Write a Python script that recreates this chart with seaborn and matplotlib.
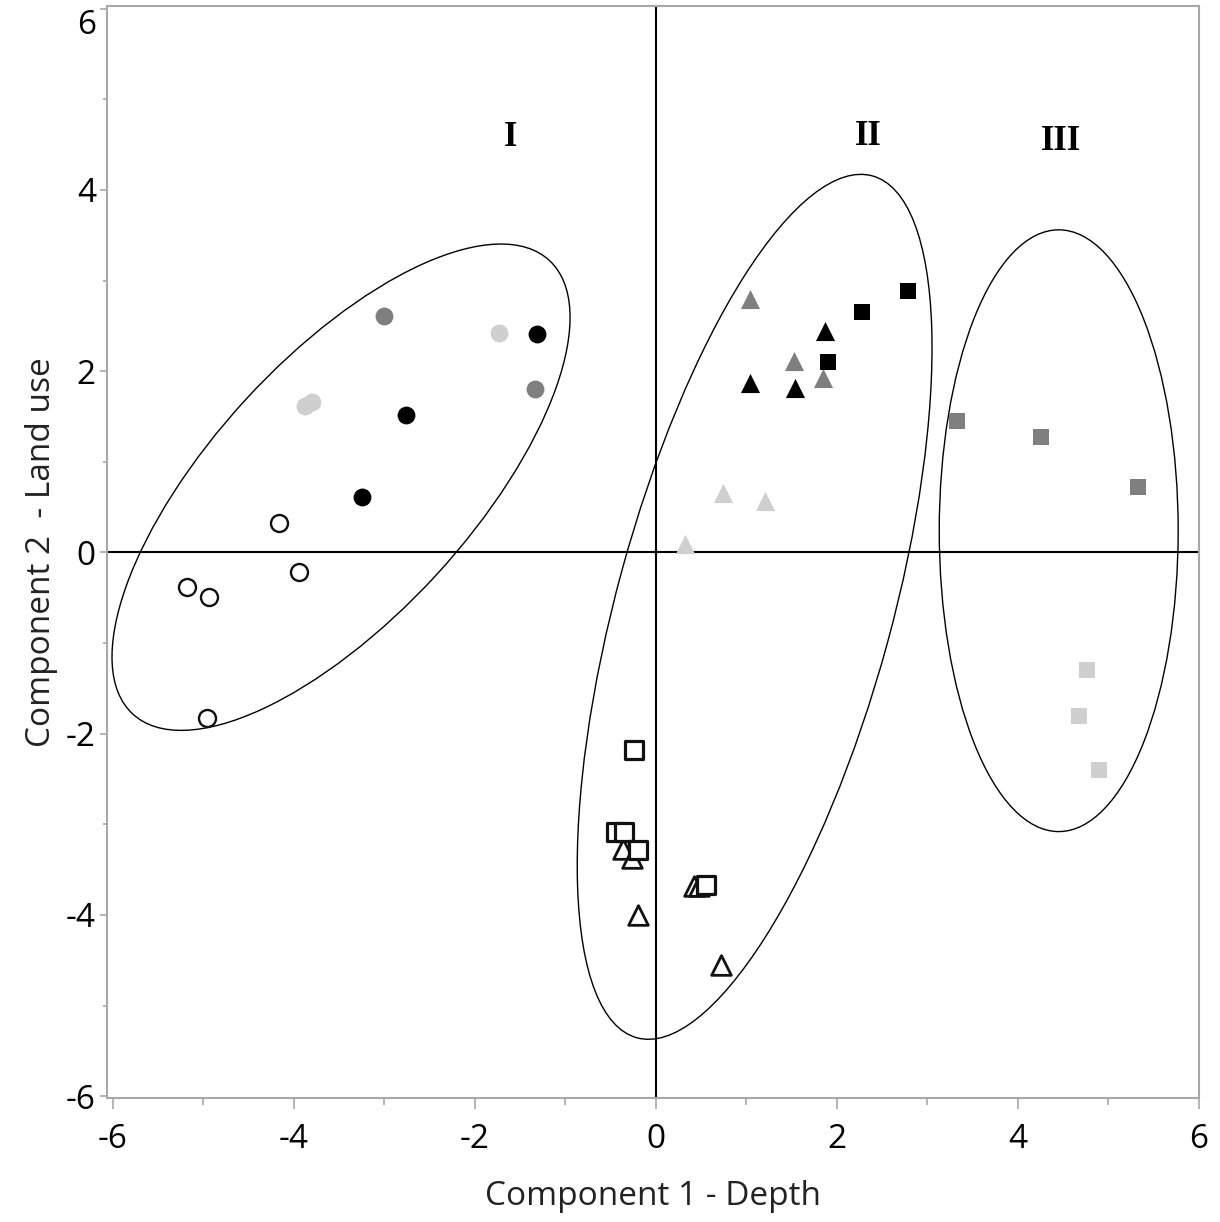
import matplotlib
matplotlib.use("Agg")
import matplotlib.pyplot as plt
from matplotlib.patches import Ellipse
from matplotlib.ticker import MultipleLocator
import seaborn as sns
import pandas as pd

# ---------------- data ----------------
# Group I : circles
circle_black_x = [-1.31, -2.76, -3.25]
circle_black_y = [2.41, 1.52, 0.61]
circle_dgray_x = [-3.01, -1.34]
circle_dgray_y = [2.61, 1.80]
circle_lgray_x = [-1.73, -3.88, -3.80]
circle_lgray_y = [2.42, 1.62, 1.66]
circle_open_x = [-4.17, -3.95, -5.18, -4.94, -4.96]
circle_open_y = [0.32, -0.22, -0.38, -0.49, -1.83]

# Group II : triangles and squares
tri_black_x = [1.04, 1.87, 1.54]
tri_black_y = [1.87, 2.44, 1.81]
tri_dgray_x = [1.04, 1.52, 1.85]
tri_dgray_y = [2.80, 2.11, 1.92]
tri_lgray_x = [0.74, 1.20, 0.32]
tri_lgray_y = [0.66, 0.57, 0.09]
tri_open_x = [-0.36, -0.26, 0.42, 0.47, -0.20, 0.72]
tri_open_y = [-3.27, -3.37, -3.68, -3.68, -4.00, -4.55]
sq_black_x = [2.28, 2.78, 1.90]
sq_black_y = [2.65, 2.88, 2.10]
sq_open_x = [-0.24, -0.44, -0.35, -0.20, 0.55]
sq_open_y = [-2.18, -3.08, -3.08, -3.28, -3.67]

# Group III : squares
sq_dgray_x = [3.33, 4.25, 5.33]
sq_dgray_y = [1.45, 1.27, 0.72]
sq_lgray_x = [4.76, 4.67, 4.89]
sq_lgray_y = [-1.30, -1.81, -2.40]

# Cluster ellipses: centre x, centre y, full width, full height, angle (deg)
ellipse_cx = [-3.48, 1.09, 4.45]
ellipse_cy = [0.72, -0.60, 0.24]
ellipse_w = [6.80, 9.86, 2.64]
ellipse_h = [2.86, 3.04, 6.64]
ellipse_angle = [47.4, 74.7, 0.0]

cluster_labels = ["I", "II", "III"]
cluster_label_x = [-1.61, 2.34, 4.48]
cluster_label_y = [4.58, 4.59, 4.53]

x_label = "Component 1 - Depth"
y_label = "Component 2  - Land use"

# ---------------- build table ----------------
series = [
    ("circle", "black", circle_black_x, circle_black_y),
    ("circle", "dgray", circle_dgray_x, circle_dgray_y),
    ("circle", "lgray", circle_lgray_x, circle_lgray_y),
    ("circle", "open", circle_open_x, circle_open_y),
    ("triangle", "black", tri_black_x, tri_black_y),
    ("triangle", "dgray", tri_dgray_x, tri_dgray_y),
    ("triangle", "lgray", tri_lgray_x, tri_lgray_y),
    ("triangle", "open", tri_open_x, tri_open_y),
    ("square", "black", sq_black_x, sq_black_y),
    ("square", "open", sq_open_x, sq_open_y),
    ("square", "dgray", sq_dgray_x, sq_dgray_y),
    ("square", "lgray", sq_lgray_x, sq_lgray_y),
]
rows = []
for shape, shade, xs, ys in series:
    for x, y in zip(xs, ys):
        rows.append({"x": x, "y": y, "shape": shape, "shade": shade})
df = pd.DataFrame(rows)

# ---------------- styling ----------------
sns.set_theme(style="white")
plt.rcParams["font.family"] = ["Open Sans", "DejaVu Sans"]

marker_of = {"circle": "o", "triangle": "^", "square": "s"}
size_filled = {"circle": 165, "triangle": 190, "square": 135}
size_open = {"circle": 150, "triangle": 200, "square": 150}
lw_open = {"circle": 1.7, "triangle": 2.0, "square": 2.3}
face_of = {"black": "#000000", "dgray": "#7f7f7f", "lgray": "#cfcfcf", "open": "white"}
edge_of = {"black": "#000000", "dgray": "#7f7f7f", "lgray": "#cfcfcf", "open": "#111111"}

fig = plt.figure(figsize=(12.2, 12.22), dpi=100)
ax = fig.add_axes([107 / 1220, 1 - 1098 / 1222, (1199 - 107) / 1220, (1098 - 6) / 1222])

ax.axhline(0, color="black", lw=1.5, zorder=1)
ax.axvline(0, color="black", lw=1.5, zorder=1)

for cx, cy, w, h, a in zip(ellipse_cx, ellipse_cy, ellipse_w, ellipse_h, ellipse_angle):
    ax.add_patch(Ellipse((cx, cy), w, h, angle=a, fill=False,
                         edgecolor="black", lw=1.0, zorder=2))

for (shape, shade), sub in df.groupby(["shape", "shade"], sort=False):
    is_open = shade == "open"
    sns.scatterplot(data=sub, x="x", y="y", ax=ax,
                    marker=marker_of[shape],
                    s=size_open[shape] if is_open else size_filled[shape],
                    color=face_of[shade], edgecolor=edge_of[shade],
                    linewidth=lw_open[shape] if is_open else 0, zorder=3, legend=False)

for t, tx, ty in zip(cluster_labels, cluster_label_x, cluster_label_y):
    ax.text(tx, ty, t, ha="center", va="center", fontsize=25, fontweight="bold",
            family=["Liberation Serif", "DejaVu Serif"], color="black")

ax.set_xlim(-6.066, 6.0)
ax.set_ylim(-6.02, 6.03)
ax.xaxis.set_major_locator(MultipleLocator(2))
ax.xaxis.set_minor_locator(MultipleLocator(1))
ax.yaxis.set_major_locator(MultipleLocator(2))
ax.yaxis.set_minor_locator(MultipleLocator(1))

gray = "#a8a8a8"
for sp in ax.spines.values():
    sp.set_color(gray)
    sp.set_linewidth(1.5)
ax.tick_params(axis="both", which="both", direction="out", color=gray, width=1.2,
               labelsize=24, labelcolor="black")
ax.tick_params(axis="x", which="major", length=8, pad=10, bottom=True)
ax.tick_params(axis="x", which="minor", length=5, bottom=True)
ax.tick_params(axis="y", which="major", length=5, pad=3, left=True)
ax.tick_params(axis="y", which="minor", length=3, left=True)

def fmt(v):
    return f"{int(round(v))}" if v >= 0 else f"-{int(round(abs(v)))}"

xt = [v for v in ax.get_xticks() if -6.07 <= v <= 6.01]
yt = [v for v in ax.get_yticks() if -6.03 <= v <= 6.04]
ax.set_xticks(xt)
ax.set_yticks(yt)
ax.set_xticklabels([fmt(v) for v in xt])
ylabels = ax.set_yticklabels([fmt(v) for v in yt])
ylabels[-1].set_verticalalignment("top")
ylabels[-1].set_y(6.03)

ax.set_xlabel(x_label, fontsize=24, color="#222222", labelpad=17)
ax.set_ylabel(y_label, fontsize=24, color="#222222", labelpad=6)

fig.savefig("out.png", dpi=100)
